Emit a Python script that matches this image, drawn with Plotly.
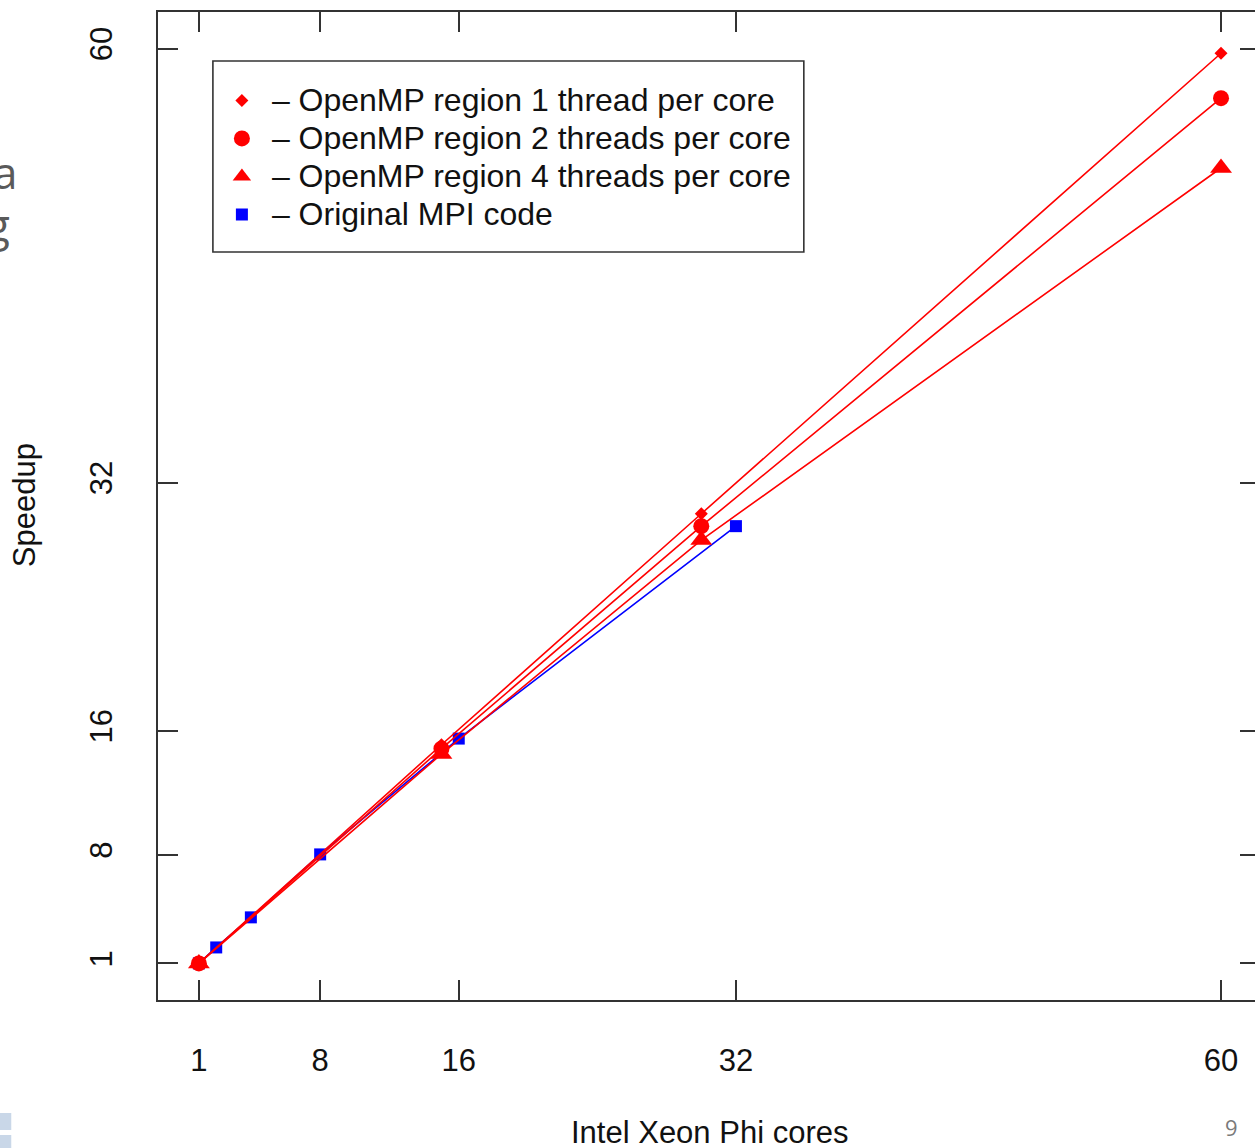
import plotly.graph_objects as go

# ---- data ----
tick_vals = [1, 8, 16, 32, 60]
tick_text = ["1", "8", "16", "32", "60"]

omp_cores = [1, 15, 30, 60]
omp_1tpc = [1, 15.1, 30.0, 59.7]
omp_2tpc = [1, 14.85, 29.2, 56.8]
omp_4tpc = [1, 14.5, 28.3, 52.3]

mpi_cores = [1, 2, 4, 8, 16, 32]
mpi_speedup = [1, 2.03, 3.97, 8.03, 15.5, 29.2]

series_names = [
    "\u2013 OpenMP region 1 thread per core",
    "\u2013 OpenMP region 2 threads per core",
    "\u2013 OpenMP region 4 threads per core",
    "\u2013 Original MPI code",
]

RED = "#ff0000"
BLUE = "#0000ff"
FONT = "Liberation Sans"

W, H = 1262, 1148
L, R, T, B = 158, 0, 12, 148
PW, PH = W - L - R, H - T - B


def px(xp):
    return (xp - L) / PW


def py(yp):
    return (H - B - yp) / PH


fig = go.Figure()

series = [
    (mpi_cores, mpi_speedup, BLUE, "square", 12, series_names[3], 4),
    (omp_cores, omp_1tpc, RED, "diamond", 10, series_names[0], 1),
    (omp_cores, omp_2tpc, RED, "circle", 16, series_names[1], 2),
    (omp_cores, omp_4tpc, RED, "triangle-up", 19, series_names[2], 3),
]

for xs, ys, col, sym, size, name, rank in series:
    fig.add_trace(go.Scatter(
        x=xs, y=ys, mode="lines", line=dict(color=col, width=1.6),
        showlegend=False, hoverinfo="skip"))
    fig.add_trace(go.Scatter(
        x=xs, y=ys, mode="markers",
        marker=dict(color=col, symbol=sym, size=size, line=dict(width=0)),
        name="<span style='font-size:32px'>" + name + "</span>",
        legendrank=rank, showlegend=True))

axis_common = dict(
    tickvals=tick_vals, ticktext=tick_text,
    ticks="inside", ticklen=20, tickwidth=1.5, tickcolor="#333333",
    showline=True, linecolor="#333333", linewidth=2, mirror="ticks",
    showgrid=False, zeroline=False,
    tickfont=dict(family=FONT, size=31, color="#111111"),
)

fig.update_layout(
    width=W, height=H,
    margin=dict(l=L, r=R, t=T, b=B),
    paper_bgcolor="white", plot_bgcolor="white",
    xaxis=dict(**axis_common, range=[-1.36, 62.25], ticklabelstandoff=32),
    yaxis=dict(**axis_common, range=[-1.36, 62.36], tickangle=-90, ticklabelstandoff=32),
    showlegend=True,
    legend=dict(
        x=px(212), y=py(76.5), xanchor="left", yanchor="top",
        bgcolor="rgba(0,0,0,0)", borderwidth=0,
        font=dict(family=FONT, size=26.9, color="#111111"),
        itemwidth=50, tracegroupgap=0, traceorder="normal",
    ),
    shapes=[
        # legend box
        dict(type="rect", xref="paper", yref="paper",
             x0=px(213), x1=px(805), y0=py(252), y1=py(61),
             line=dict(color="#333333", width=1.6), fillcolor="rgba(0,0,0,0)"),
        # slide decoration bottom-left
        dict(type="rect", xref="paper", yref="paper",
             x0=px(-2), x1=px(11), y0=py(1130), y1=py(1113),
             line=dict(width=0), fillcolor="#c9d7e8"),
        dict(type="rect", xref="paper", yref="paper",
             x0=px(-2), x1=px(11), y0=py(1150), y1=py(1135),
             line=dict(width=0), fillcolor="#c9d7e8"),
    ],
    annotations=[
        dict(text="Speedup", xref="paper", yref="paper", x=px(25), y=py(505),
             xanchor="center", yanchor="middle", textangle=-90, showarrow=False,
             font=dict(family=FONT, size=31, color="#111111")),
        dict(text="Intel Xeon Phi cores", xref="paper", yref="paper", x=px(710), y=py(1132),
             xanchor="center", yanchor="middle", showarrow=False,
             font=dict(family=FONT, size=31, color="#111111")),
        dict(text="a", xref="paper", yref="paper", x=px(19), y=py(172),
             xanchor="right", yanchor="middle", showarrow=False,
             font=dict(family="Open Sans", size=44, color="#5a5a5a")),
        dict(text="g", xref="paper", yref="paper", x=px(12), y=py(224),
             xanchor="right", yanchor="middle", showarrow=False,
             font=dict(family="Open Sans", size=44, color="#5a5a5a")),
        dict(text="9", xref="paper", yref="paper", x=px(1233), y=py(1127),
             xanchor="center", yanchor="middle", showarrow=False,
             font=dict(family="Open Sans", size=22, color="#7a7a7a")),
    ],
)

fig.write_html(
    "out.html",
    post_script="document.documentElement.style.overflow='hidden';"
                "document.body.style.overflow='hidden';document.body.style.margin='0';",
)
